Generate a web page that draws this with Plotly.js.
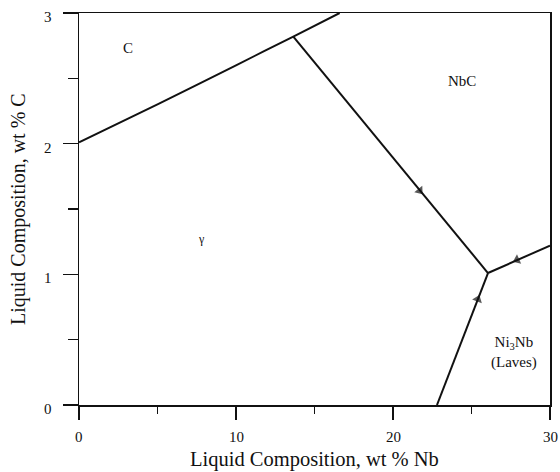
<!DOCTYPE html>
<html>
<head>
<meta charset="utf-8">
<script src="https://cdn.plot.ly/plotly-3.0.1.min.js"></script>
<style>
html,body{margin:0;padding:0;background:#fff;}
#chart{width:560px;height:472px;}
</style>
</head>
<body>
<div id="chart"></div>
<script>
// Phase boundaries (liquidus valleys), wt % Nb vs wt % C
const cGammaX = [0, 5, 10, 13.65, 16.6];
const cGammaY = [2.01, 2.30, 2.60, 2.82, 3.0];

// gamma / NbC valley: triple point -> arrow -> ternary eutectic
const nbcGammaX = [13.65, 21.7, 26.05];
const nbcGammaY = [2.82, 1.64, 1.01];

// Laves / NbC valley: right edge -> arrow -> eutectic
const lavesNbcX = [30, 27.9, 26.05];
const lavesNbcY = [1.22, 1.11, 1.01];

// gamma / Laves valley: bottom -> arrow -> eutectic
const gammaLavesX = [22.8, 25.4, 26.05];
const gammaLavesY = [0, 0.81, 1.01];

// Region labels
const regionText = ["C", "NbC", "\u03b3", "Ni<sub>3</sub>Nb<br>(Laves)"];
const regionX = [3.1, 24.4, 7.8, 27.7];
const regionY = [2.73, 2.48, 1.27, 0.4];
const regionSize = [15, 15, 12, 15];

// Tick values and labels
const xTicks = [0, 10, 20, 30];
const xTickText = ["0", "10", "20", "30"];
const yTicks = [0, 1, 2, 3];
const yTickText = ["0", "1", "2", "3"];

const xTitle = "Liquid Composition, wt % Nb";
const yTitle = "Liquid Composition, wt % C";

const serif = "Liberation Serif, Times New Roman, serif";
const ink = "#111";

const arrowSizes = [0, 9, 0];
function valley(x, y) {
  return {
    x: x, y: y, type: "scatter", mode: "lines+markers",
    line: {color: ink, width: 2},
    marker: {symbol: "triangle-up", size: arrowSizes, color: ink, angleref: "previous", angle: 0, line: {width: 0}},
    hoverinfo: "skip", showlegend: false
  };
}

const data = [
  {x: cGammaX, y: cGammaY, type: "scatter", mode: "lines", line: {color: ink, width: 2, shape: "spline", smoothing: 0.6}, showlegend: false, hoverinfo: "skip"},
  valley(nbcGammaX, nbcGammaY),
  valley(lavesNbcX, lavesNbcY),
  valley(gammaLavesX, gammaLavesY)
];

const annotations = regionText.map((t, i) => ({
  x: regionX[i], y: regionY[i], xref: "x", yref: "y", text: t, showarrow: false,
  font: {family: serif, size: regionSize[i], color: ink}
}));

xTicks.forEach((v, i) => annotations.push({
  x: v, xref: "x", y: 0, yref: "paper", yanchor: "middle", yshift: -32,
  text: xTickText[i], showarrow: false, font: {family: serif, size: 15, color: ink}
}));
yTicks.forEach((v, i) => annotations.push({
  x: 0, xref: "paper", xanchor: "center", xshift: -31, y: v, yref: "y", yanchor: "middle", yshift: -4,
  text: yTickText[i], showarrow: false, font: {family: serif, size: 15, color: ink}
}));
annotations.push({
  x: 0.5, xref: "paper", y: 0, yref: "paper", yanchor: "middle", yshift: -54,
  text: xTitle, showarrow: false, font: {family: serif, size: 20.5, color: ink}
});
annotations.push({
  x: 0, xref: "paper", xanchor: "center", xshift: -61, y: 0.5, yref: "paper", yanchor: "middle",
  text: yTitle, textangle: -90, showarrow: false, font: {family: serif, size: 20, color: ink}
});

const layout = {
  width: 560, height: 472,
  margin: {l: 79, r: 10, t: 13, b: 67},
  paper_bgcolor: "#fff", plot_bgcolor: "#fff",
  font: {family: serif, color: ink},
  showlegend: false,
  xaxis: {
    range: [0, 30], tickvals: xTicks, showticklabels: false,
    ticks: "outside", ticklen: 13, tickwidth: 1.5, tickcolor: ink,
    minor: {dtick: 5, tick0: 0, ticks: "outside", ticklen: 7, tickwidth: 1.5, tickcolor: ink, showgrid: false},
    showline: true, linecolor: ink, linewidth: 1.5, mirror: true,
    showgrid: false, zeroline: false, automargin: false
  },
  yaxis: {
    range: [0, 3], tickvals: yTicks, showticklabels: false,
    ticks: "outside", ticklen: 15, tickwidth: 1.5, tickcolor: ink,
    minor: {dtick: 0.5, tick0: 0, ticks: "outside", ticklen: 10, tickwidth: 1.5, tickcolor: ink, showgrid: false},
    showline: true, linecolor: ink, linewidth: 1.5, mirror: true,
    showgrid: false, zeroline: false, automargin: false
  },
  annotations: annotations
};

Plotly.newPlot("chart", data, layout, {displayModeBar: false, staticPlot: true});
</script>
</body>
</html>
